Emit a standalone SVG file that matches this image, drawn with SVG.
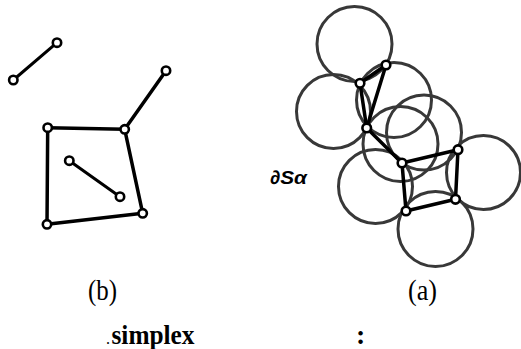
<svg xmlns="http://www.w3.org/2000/svg" width="521" height="349" viewBox="0 0 521 349">
<style>
.ring{fill:none;stroke:#383838;stroke-width:3}
.edge{stroke:#000;stroke-width:3.5;stroke-linecap:round}
.thin{stroke-width:3}
.node{fill:#fff;stroke:#000;stroke-width:2.6}
.lbl{font-family:"Liberation Serif",serif;font-size:30px;fill:#000}
.cap{font-family:"Liberation Serif",serif;font-size:28px;font-weight:bold;fill:#000}
.sym{font-family:"Liberation Sans",sans-serif;font-size:19px;font-weight:bold;font-style:italic;fill:#000}
</style>
<rect width="521" height="349" fill="#fff"/>
<g id="rings">
<circle class="ring" cx="354.5" cy="44" r="37.5"/>
<circle class="ring" cx="333.5" cy="111.5" r="37"/>
<circle class="ring" cx="394" cy="100" r="37.5"/>
<circle class="ring" cx="400.5" cy="144" r="37.5"/>
<circle class="ring" cx="424" cy="132.5" r="37.5"/>
<circle class="ring" cx="483.5" cy="172.5" r="37"/>
<circle class="ring" cx="375.5" cy="186.5" r="37"/>
<circle class="ring" cx="435.5" cy="229" r="37.5"/>
</g>
<g id="connectors">
<line class="edge thin" x1="57" y1="42.7" x2="13.3" y2="80"/>
<line class="edge" x1="166" y1="70.7" x2="124.7" y2="129.3"/>
<line class="edge" x1="47.7" y1="127.7" x2="124.7" y2="129.3"/>
<line class="edge" x1="124.7" y1="129.3" x2="142.7" y2="213.3"/>
<line class="edge" x1="142.7" y1="213.3" x2="47" y2="224.3"/>
<line class="edge" x1="47" y1="224.3" x2="47.7" y2="127.7"/>
<line class="edge thin" x1="69.3" y1="160.7" x2="120" y2="196.7"/>
<line class="edge" x1="386" y1="65" x2="360" y2="83.3"/>
<line class="edge" x1="386" y1="65" x2="366.7" y2="128"/>
<line class="edge" x1="360" y1="83.3" x2="366.7" y2="128"/>
<line class="edge" x1="366.7" y1="128" x2="402" y2="163"/>
<line class="edge" x1="402" y1="163" x2="458" y2="149.7"/>
<line class="edge" x1="458" y1="149.7" x2="455.5" y2="199.3"/>
<line class="edge" x1="455.5" y1="199.3" x2="406" y2="211"/>
<line class="edge" x1="406" y1="211" x2="402" y2="163"/>
</g>
<g id="nA"><circle class="node" cx="57" cy="42.7" r="4.2"/></g>
<g id="nB"><circle class="node" cx="13.3" cy="80" r="4.2"/></g>
<g id="nC"><circle class="node" cx="166" cy="70.7" r="4.2"/></g>
<g id="nD"><circle class="node" cx="47.7" cy="127.7" r="4.2"/></g>
<g id="nE"><circle class="node" cx="124.7" cy="129.3" r="4.2"/></g>
<g id="nF"><circle class="node" cx="142.7" cy="213.3" r="4.2"/></g>
<g id="nG"><circle class="node" cx="47" cy="224.3" r="4.2"/></g>
<g id="nH"><circle class="node" cx="69.3" cy="160.7" r="4.2"/></g>
<g id="nI"><circle class="node" cx="120" cy="196.7" r="4.2"/></g>
<g id="n1"><circle class="node" cx="386" cy="65" r="4.3"/></g>
<g id="n2"><circle class="node" cx="360" cy="83.3" r="4.3"/></g>
<g id="n3"><circle class="node" cx="366.7" cy="128" r="4.3"/></g>
<g id="n4"><circle class="node" cx="402" cy="163" r="4.3"/></g>
<g id="n5"><circle class="node" cx="458" cy="149.7" r="4.3"/></g>
<g id="n6"><circle class="node" cx="455.5" cy="199.3" r="4.3"/></g>
<g id="n7"><circle class="node" cx="406" cy="211" r="4.3"/></g>
<g id="labels">
<text class="sym" x="270" y="184" textLength="37" lengthAdjust="spacingAndGlyphs">∂Sα</text>
<text class="lbl" x="88" y="300" textLength="29" lengthAdjust="spacingAndGlyphs">(b)</text>
<text class="lbl" x="408" y="300" textLength="29" lengthAdjust="spacingAndGlyphs">(a)</text>
<text class="cap" y="344"><tspan x="106" font-weight="normal" font-size="16">.</tspan><tspan x="111.5" textLength="83" lengthAdjust="spacingAndGlyphs">simplex</tspan></text>
<text class="cap" x="356" y="344">:</text>
</g>
</svg>
